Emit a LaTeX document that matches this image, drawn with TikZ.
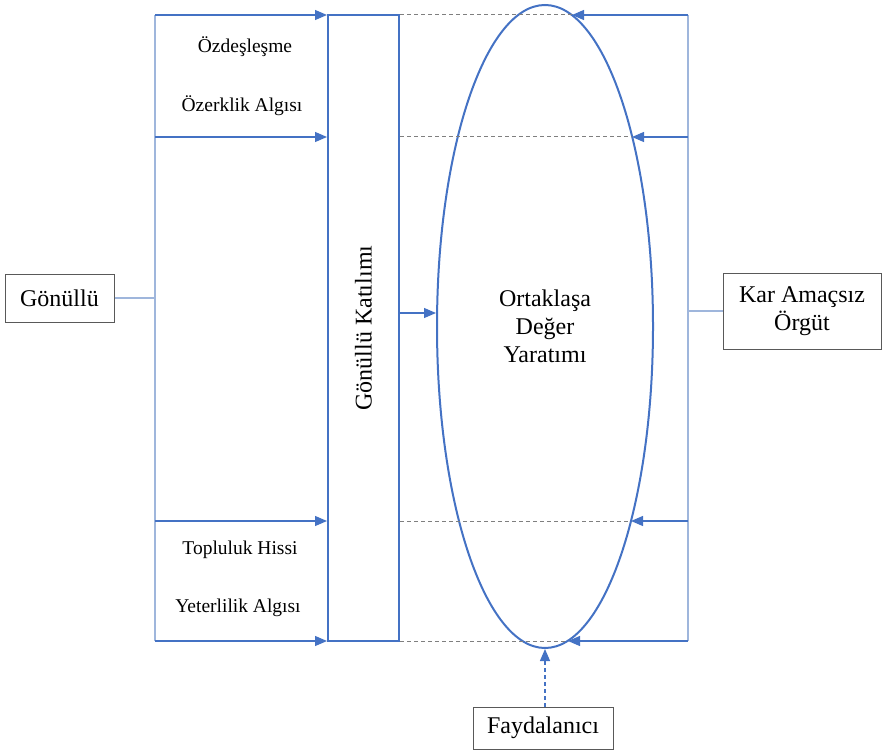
\documentclass[tikz,border=0pt]{standalone}
\usepackage{fontspec}
\setmainfont{Liberation Serif}
\newfontfamily\tms{Liberation Serif}
\usetikzlibrary{arrows.meta,shapes.geometric}
\definecolor{mblue}{HTML}{4472C4}
\definecolor{lblue}{HTML}{9FB6DC}
\definecolor{dgray}{HTML}{7F7F7F}
\definecolor{bgray}{HTML}{595959}
\tikzset{
  bigtxt/.style={font=\tms\fontsize{24}{28}\selectfont},
  smalltxt/.style={font=\tms\fontsize{19.5}{23}\selectfont, inner sep=0pt},
  plainbox/.style={draw=bgray, line width=1pt, fill=white, bigtxt, align=center, inner sep=0pt},
  arr/.style={draw=mblue, line width=1.2pt, -{Triangle[length=12pt,width=10pt]}},
  thin/.style={draw=lblue, line width=1.2pt},
  dashgray/.style={draw=dgray, line width=1pt, dash pattern=on 4pt off 3pt},
}
\begin{document}
\begin{tikzpicture}[x=1pt,y=-1pt]
\useasboundingbox (0,0) rectangle (882,751);
% main shapes
\node[draw=mblue, line width=2pt, minimum width=71pt, minimum height=626pt, inner sep=0pt] (kat) at (363.5,328) {};
\node[bigtxt, rotate=90] (katl) at (363.5,328) {Gönüllü Katılımı};
\node[ellipse, draw=mblue, line width=2pt, minimum width=216pt, minimum height=643pt, inner sep=0pt] (ell) at (545,326.5) {};
\node[bigtxt, align=center] (ort) at (545,326) {Ortaklaşa\\Değer\\Yaratımı};
% boxes
\node[plainbox, minimum width=109pt, minimum height=48pt] (gon) at (59.5,298) {Gönüllü};
\node[plainbox, minimum width=158pt, minimum height=76pt] (kar) at (802,311) {Kar Amaçsız\\Örgüt};
\node[plainbox, minimum width=140pt, minimum height=42pt] (fay) at (543,728) {Faydalanıcı};
% labels
\node[smalltxt] (t1) at (245,47) {Özdeşleşme};
\node[smalltxt] (t2) at (242,106) {Özerklik Algısı};
\node[smalltxt] (t3) at (240,550) {Topluluk Hissi};
\node[smalltxt] (t4) at (238,608) {Yeterlilik Algısı};
% coordinates
\coordinate (L1) at (155,15);
\coordinate (L2) at (155,137);
\coordinate (L3) at (155,521);
\coordinate (L4) at (155,641);
\coordinate (LG) at (155,298);
\coordinate (R1) at (688,15);
\coordinate (R2) at (688,137);
\coordinate (R3) at (688,521);
\coordinate (R4) at (688,641);
\coordinate (RK) at (688,311);
\coordinate (E1) at (572,15);
\coordinate (E2) at (632,137);
\coordinate (E3) at (631,521);
\coordinate (E4) at (568,641);
\coordinate (M) at (0,313);
% left side
\draw[thin] (L1) -- (L4);
\draw[thin] (gon.east) -- (LG);
\foreach \p in {L1,L2,L3,L4} \draw[arr] (\p) -- (\p -| kat.west);
% dashed gray
\draw[dashgray] (L1 -| kat.east) -- (E1);
\draw[dashgray] (L2 -| kat.east) -- (E2);
\draw[dashgray] (L3 -| kat.east) -- (E3);
\draw[dashgray] (L4 -| kat.east) -- (E4);
% right side
\draw[thin] (R1) -- (R4);
\draw[thin] (RK) -- (kar.west);
\draw[arr] (R1) -- (E1);
\draw[arr] (R2) -- (E2);
\draw[arr] (R3) -- (E3);
\draw[arr] (R4) -- (E4);
% middle arrow
\draw[arr] (kat.east |- M) -- (ell.west |- M);
% beneficiary
\draw[arr, dash pattern=on 4pt off 3pt] (fay.north -| ell.south) -- (ell.south);
\end{tikzpicture}
\end{document}
